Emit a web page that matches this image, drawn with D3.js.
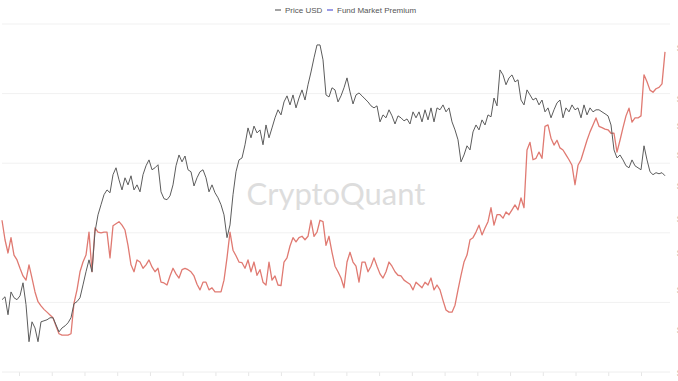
<!DOCTYPE html>
<html><head><meta charset="utf-8">
<script src="https://cdn.jsdelivr.net/npm/d3@7"></script>
<style>html,body{margin:0;padding:0;background:#fff;overflow:hidden}svg{display:block}</style>
</head><body>
<svg id="chart" width="678" height="381"></svg>
<script>
// ---- data ----
const priceUSD = [27510,27660,26750,27910,27610,27510,27710,28390,27260,25440,26400,26100,25440,26400,26450,26500,26600,26600,26250,25910,
26100,26200,26350,26600,27310,27410,27610,28280,28980,29630,28980,31220,32220,32830,33450,33750,33570,34720,35170,34390,
33750,34520,34070,34650,33750,34070,33630,34720,35300,35690,35040,35170,35370,33630,33200,33140,33380,34070,35300,36020,
35560,35950,35040,34910,34000,34520,34910,35040,34520,33630,34070,33570,33260,32830,32220,30880,31620,33450,34910,35690,
35820,36710,37880,37190,38010,37530,37740,36710,38090,37190,37880,38600,39180,38810,39760,40210,39540,40280,39320,40050,
40660,39900,41050,42040,43160,44210,44210,43000,40280,40130,40820,40660,39760,40210,40820,41580,40510,39610,40280,40430,
40210,39980,39760,39470,39320,39470,38310,38810,38600,39180,38740,38160,38740,38600,38380,38520,38160,39030,38600,39030,
38310,39180,38450,39320,38310,39320,39180,39540,39030,39320,38310,37740,37050,35560,36020,36640,36360,37600,38090,37740,
38450,38090,38810,38670,40050,39470,42200,41810,41050,41580,41810,41270,41430,39900,39540,40660,40280,39900,40050,39540,
39900,39030,39320,38600,39180,39690,39900,38600,39320,39030,39540,39180,39320,38600,39540,38810,39320,39030,39180,39180,
39030,38890,38740,38090,36360,35820,36020,35690,35300,35170,35690,35300,35170,35040,36640,35690,34910,34720,34850,34780,
34850,34650];

const fundMarketPremium = [-28.2,-31.0,-32.9,-30.7,-33.2,-33.9,-35.1,-36.2,-36.8,-34.6,-36.5,-38.5,-39.9,-40.5,-41.0,-41.4,-41.8,-42.2,-43.4,-44.5,
-44.7,-44.7,-44.7,-44.5,-40.1,-38.2,-35.6,-34.2,-33.2,-29.9,-35.6,-29.3,-29.9,-30.0,-29.9,-29.9,-33.6,-29.0,-28.7,-28.4,
-28.9,-29.6,-31.8,-34.6,-35.6,-33.9,-34.2,-35.1,-34.6,-33.9,-34.9,-35.6,-35.1,-37.1,-37.2,-37.5,-36.2,-35.1,-35.9,-36.5,
-35.3,-35.1,-35.3,-35.6,-36.2,-37.4,-38.2,-37.1,-37.1,-38.2,-37.9,-38.5,-38.5,-38.5,-36.8,-33.6,-29.9,-32.5,-33.3,-34.2,
-34.3,-35.1,-33.9,-35.6,-34.2,-36.1,-35.3,-37.1,-37.5,-34.2,-36.8,-36.2,-37.5,-37.6,-34.2,-33.6,-31.9,-30.7,-31.3,-30.7,
-30.5,-31.0,-30.5,-28.2,-30.5,-29.9,-28.2,-28.4,-31.8,-30.5,-32.8,-34.8,-35.6,-36.5,-37.9,-34.2,-32.8,-34.2,-34.8,-37.1,
-34.2,-34.2,-35.6,-34.8,-33.6,-34.8,-35.9,-36.5,-35.6,-34.2,-34.8,-35.6,-36.1,-36.2,-36.8,-37.1,-37.4,-38.2,-37.1,-37.5,
-37.9,-37.1,-37.5,-36.5,-38.2,-37.5,-38.2,-39.7,-41.1,-41.4,-41.4,-40.4,-38.2,-36.1,-34.2,-33.2,-31.0,-30.7,-29.9,-28.9,
-30.3,-29.3,-28.4,-26.4,-28.9,-27.4,-27.4,-27.9,-27.0,-27.4,-26.7,-26.0,-26.7,-25.0,-26.4,-18.1,-17.0,-19.5,-19.3,-18.4,
-19.3,-14.7,-14.5,-16.4,-17.4,-16.7,-17.8,-18.1,-18.8,-19.5,-20.3,-23.1,-20.3,-19.5,-18.1,-16.7,-15.5,-14.5,-13.5,-14.7,
-14.9,-15.1,-15.2,-15.7,-15.7,-18.4,-16.7,-14.9,-13.2,-12.1,-14.1,-13.5,-13.5,-13.2,-7.3,-8.3,-9.5,-9.8,-9.3,-9.1,
-8.6,-4.0];

const premiumTicks = [-50, -40, -30, -20, -10, 0];
const priceTicks = [24000, 26000, 28000, 30000, 32000, 34000, 36000, 38000, 40000, 44000];
const priceTickLabels = ["$24K","$26K","$28K","$30K","$32K","$34K","$36K","$38K","$40K","$44K"];
const xTickLabels = ["Jan 06","Jan 17","Jan 28","Feb 08","Feb 19","Mar 02","Mar 13","Mar 24","Apr 04","Apr 15",
"Apr 26","May 07","May 18","May 29","Jun 09","Jun 20","Jul 01","Jul 12","Jul 23","Aug 03"];
const seriesNames = ["Price USD", "Fund Market Premium"];

// ---- drawing ----
const svg = d3.select("#chart");

const x = d3.scaleLinear().domain([0, priceUSD.length - 1]).range([2, 665]);
const yPrem = d3.scaleLinear().domain([-50, 0]).range([372, 24]);
const yPrice = d3.scaleLog().domain([24000, 44000]).range([373, 47.5]);

// gridlines
svg.append("g").selectAll("line").data(premiumTicks.slice(1)).join("line")
  .attr("x1", 2).attr("x2", 670)
  .attr("y1", d => yPrem(d)).attr("y2", d => yPrem(d))
  .attr("stroke", "#f1f1f1").attr("stroke-width", 1);

// bottom axis
const xt = d3.scalePoint().domain(xTickLabels).range([x(5.67), x(213)]);
const xAxis = d3.axisBottom(xt).tickSize(4).tickPadding(6);
const gx = svg.append("g").attr("transform", `translate(0,${yPrem(-50)})`).call(xAxis);
gx.select(".domain").remove();
gx.selectAll(".tick line").attr("stroke", "#e6e6e6");
gx.selectAll(".tick text").attr("fill", "#b0b0b0").style("font-size", "9px").style("font-family", "Liberation Sans, Arial, sans-serif");
svg.append("line").attr("x1", 2).attr("x2", 670).attr("y1", yPrem(-50)).attr("y2", yPrem(-50))
  .attr("stroke", "#eeeeee");

// right axis (labels cut by the frame)
svg.append("g").selectAll("text").data(priceTicks).join("text")
  .attr("x", 677).attr("y", d => yPrice(d)).attr("dy", "0.35em")
  .attr("fill", "#aaa").style("font-size", "9px")
  .style("font-family", "Liberation Sans, Arial, sans-serif")
  .text((d, i) => priceTickLabels[i]);

// watermark
svg.append("text").attr("x", 336).attr("y", 205).attr("text-anchor", "middle")
  .style("font-family", "Lato, 'Open Sans', sans-serif").style("font-size", "31px")
  .attr("fill", "#dddddd").text("CryptoQuant");

// lines
const linePrem = d3.line().x((d, i) => x(i)).y(d => yPrem(d));
const linePrice = d3.line().x((d, i) => x(i)).y(d => yPrice(d));

svg.append("path").datum(fundMarketPremium).attr("d", linePrem)
  .attr("fill", "none").attr("stroke", "#e07a72").attr("stroke-width", 1.3).attr("stroke-linejoin", "round");
svg.append("path").datum(priceUSD).attr("d", linePrice)
  .attr("fill", "none").attr("stroke", "#5c5c5c").attr("stroke-width", 1).attr("stroke-linejoin", "round");

// legend
const legend = svg.append("g").style("font-family", "Liberation Sans, Arial, sans-serif").style("font-size", "8px");
const legColors = ["#666", "#5b5bd6"];
const legX = [275, 327];
seriesNames.forEach((n, i) => {
  legend.append("line").attr("x1", legX[i]).attr("x2", legX[i] + 6).attr("y1", 10).attr("y2", 10)
    .attr("stroke", legColors[i]).attr("stroke-width", 1.2);
  legend.append("text").attr("x", legX[i] + 10).attr("y", 13).attr("fill", "#555").text(n);
});
</script>
</body></html>
